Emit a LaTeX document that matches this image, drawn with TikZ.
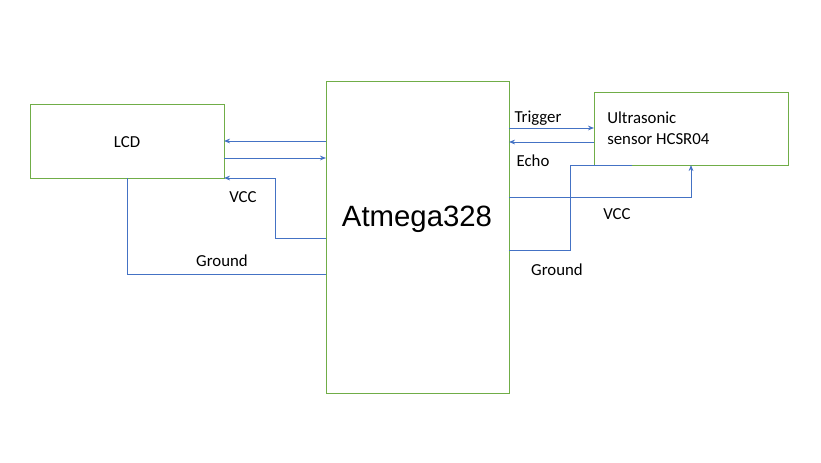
\documentclass[tikz,border=0pt]{standalone}
\usepackage{fontspec}
\setmainfont{Carlito}
\newfontfamily\bigfont{Liberation Sans}
\usetikzlibrary{arrows.meta}
\definecolor{boxgreen}{RGB}{112,173,71}
\definecolor{wireblue}{RGB}{68,114,196}
\begin{document}
\begin{tikzpicture}[x=0.75pt,y=-0.75pt,
  blockbox/.style={draw=boxgreen,line width=0.8pt,fill=white,inner sep=0pt},
  wire/.style={draw=wireblue,line width=0.7pt},
  arr/.style={wire,-{Stealth[length=4.5pt,width=3.5pt]}},
  lbl/.style={font=\fontsize{12.6}{15.75}\selectfont,inner sep=0pt}]
\useasboundingbox[fill=white] (0,0) rectangle (821,462);
\node[blockbox,minimum width=145.5pt,minimum height=55.5pt,anchor=north west] (lcd) at (30,104) {};
\node[lbl] (lcdt) at (127,142) {LCD};
\node[blockbox,minimum width=137.25pt,minimum height=234pt,anchor=north west] (mcu) at (326,81) {};
\node[font=\bigfont\fontsize{22}{26}\selectfont,inner sep=0pt] (mcut) at (417,219) {Atmega328};
\node[blockbox,minimum width=145.5pt,minimum height=54.75pt,anchor=north west] (us) at (594,92) {};
\node[lbl,align=left,anchor=west] (ust) at (607,128) {Ultrasonic\\sensor HCSR04};
% coordinates
\coordinate (a1) at (326,141); \coordinate (l1) at (224,141);
\coordinate (l2) at (224,158); \coordinate (a2) at (326,158);
\coordinate (a3) at (326,238); \coordinate (c3) at (275,238); \coordinate (c3b) at (275,178); \coordinate (l3) at (224,178);
\coordinate (l4) at (127,178); \coordinate (c4) at (127,274); \coordinate (a4) at (326,274);
\coordinate (a5) at (509,128); \coordinate (u5) at (594,128);
\coordinate (u6) at (594,142); \coordinate (a6) at (509,142);
\coordinate (a7) at (509,250); \coordinate (c7) at (570,250); \coordinate (c7b) at (570,165); \coordinate (u7) at (632,165);
\coordinate (a8) at (509,197); \coordinate (c8) at (691,197); \coordinate (u8) at (691,165);
\draw[arr] (a1) -- (l1);
\draw[arr] (l2) -- (a2);
\draw[arr] (a3) -- (c3) -- (c3b) -- (l3);
\draw[wire] (l4) -- (c4) -- (a4);
\draw[arr] (a5) -- (u5);
\draw[arr] (u6) -- (a6);
\draw[wire] (a7) -- (c7) -- (c7b) -- (u7);
\draw[arr] (a8) -- (c8) -- (u8);
\node[lbl] (vccl) at (243,197) {VCC};
\node[lbl] (gndl) at (222,261) {Ground};
\node[lbl] (trg) at (538,118) {Trigger};
\node[lbl] (echo) at (533,161) {Echo};
\node[lbl] (vccr) at (617,214) {VCC};
\node[lbl] (gndr) at (557,270) {Ground};
\end{tikzpicture}
\end{document}
